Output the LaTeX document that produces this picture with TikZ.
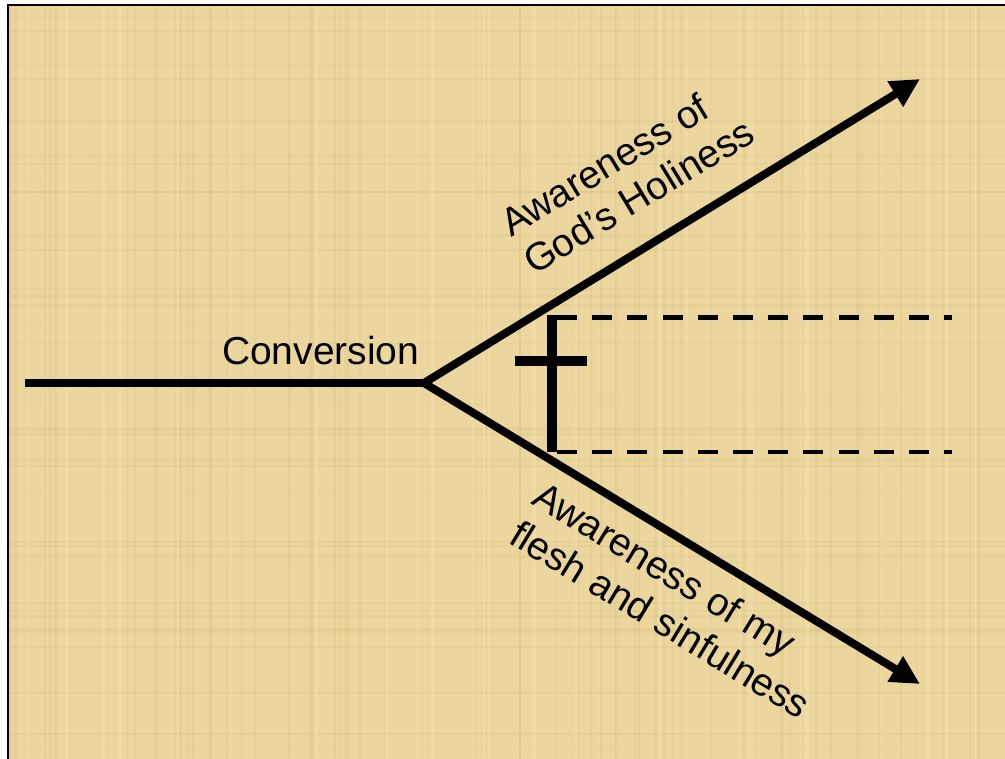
\documentclass[tikz,border=0pt]{standalone}
\usepackage{fontspec}
\setmainfont{Liberation Sans}
\usetikzlibrary{arrows.meta}
\definecolor{papyrus}{RGB}{235,215,158}
\definecolor{papyrusdark}{RGB}{196,170,100}
\definecolor{papyruslight}{RGB}{248,232,190}
\begin{document}
\begin{tikzpicture}[x=1pt,y=-1pt,
  >={Triangle[length=29pt,width=28pt]},
  branchline/.style={line width=8pt},
  txtstyle/.style={inner sep=0pt, outer sep=0pt, font=\fontsize{39}{45}\selectfont},
  guideline/.style={line width=4.5pt, dash pattern=on 20pt off 15.2pt},
  crossline/.style={line width=10pt},
  grain/.style={papyrusdark, opacity=0.13},
  sheen/.style={papyruslight, opacity=0.25}]
\useasboundingbox (0,0) rectangle (1005,759);
\fill[white] (0,0) rectangle (1005,759);
\fill[papyrus] (8,5) rectangle (1005,759);
% papyrus texture
\pgfmathsetseed{11}
\foreach \i in {1,...,70}{
  \pgfmathsetmacro\xx{10+993*rnd}
  \pgfmathsetmacro\ww{0.6+3*rnd}
  \draw[grain, line width=\ww pt] (\xx,6) -- (\xx,759);
}
\foreach \i in {1,...,40}{
  \pgfmathsetmacro\yy{7+750*rnd}
  \pgfmathsetmacro\ww{0.6+2.5*rnd}
  \draw[grain, line width=\ww pt] (9,\yy) -- (1005,\yy);
}
\foreach \i in {1,...,30}{
  \pgfmathsetmacro\xx{10+993*rnd}
  \pgfmathsetmacro\ww{1+4*rnd}
  \draw[sheen, line width=\ww pt] (\xx,6) -- (\xx,759);
}
\draw[line width=2pt] (8,759) -- (8,5) -- (1005,5);

% main path
\coordinate (start) at (25,383);
\coordinate (fork) at (424,383);
\coordinate (holy) at (920,79);
\coordinate (flesh) at (920,684);
\draw[branchline] (start) -- (fork);
\draw[branchline, miter limit=10, <->] (holy) -- (fork) -- (flesh);

% cross
\coordinate (crosstop) at (551.5,315.5);
\coordinate (crossbot) at (551.5,452);
\coordinate (armL) at (515,361.5);
\coordinate (armR) at (587,361.5);
\draw[crossline] (crosstop) -- (crossbot);
\draw[crossline] (armL) -- (armR);

% dashed guides
\coordinate (dtopL) at (557,317.5);
\coordinate (dtopR) at (952,317.5);
\coordinate (dbotL) at (557,452);
\coordinate (dbotR) at (952,452);
\draw[guideline] (dtopL) -- (dtopR);
\draw[guideline] (dbotL) -- (dbotR);

% labels
\node[txtstyle, anchor=base west] (conv) at (222,365) {Conversion};
\node[txtstyle, anchor=base west, rotate=31.3] (holy1) at (511,238) {Awareness of};
\node[txtstyle, anchor=base west, rotate=31.3] (holy2) at (534,276) {God’s Holiness};
\node[txtstyle, anchor=base west, rotate=-31.3] (sin1) at (530,503) {Awareness of my};
\node[txtstyle, anchor=base west, rotate=-31.3] (sin2) at (507,542) {flesh and sinfulness};
\end{tikzpicture}
\end{document}
